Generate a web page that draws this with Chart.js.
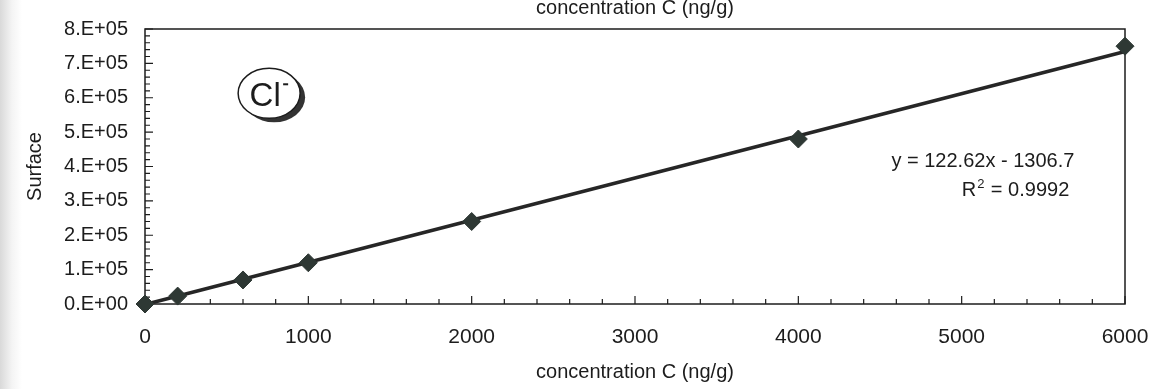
<!DOCTYPE html>
<html>
<head>
<meta charset="utf-8">
<script src="https://cdn.jsdelivr.net/npm/chart.js@4/dist/chart.umd.min.js"></script>
<style>
  html, body { margin: 0; padding: 0; }
  body { width: 1153px; height: 389px; background: linear-gradient(to right, #d9d9d9 0px, #f4f4f4 12px, #ffffff 22px); }
  #wrap { position: relative; width: 1153px; height: 389px; }
</style>
</head>
<body>
<div id="wrap"><canvas id="mycanvas" width="1153" height="389"></canvas></div>
<script>
// measured points (concentration ng/g -> surface)
var concentration = [0, 200, 600, 1000, 2000, 4000, 6000];
var surface = [0, 23000, 70000, 120000, 240000, 480000, 750000];

// linear trendline shown on the chart
var trendX = [0, 6000];
var trendY = [-1306.7, 734413.3];

var xTicks = [0, 1000, 2000, 3000, 4000, 5000, 6000];
var yTicks = [0, 100000, 200000, 300000, 400000, 500000, 600000, 700000, 800000];

var equationText = 'y = 122.62x - 1306.7';
var r2Text = ' = 0.9992';
var axisTitle = 'concentration C (ng/g)';

var ink = '#1c1c1c';
var labelFont = '"Liberation Sans", Arial, sans-serif';

function sci(v) {
    if (v === 0) return '0.E+00';
    var e = Math.floor(Math.log10(Math.abs(v)));
    var m = Math.round(v / Math.pow(10, e));
    return m + '.E+' + String(e).padStart(2, '0');
}

var points = [];
for (var i in concentration) {
    points.push({ x: concentration[i], y: surface[i] });
}
var trend = [];
for (var j in trendX) {
    trend.push({ x: trendX[j], y: trendY[j] });
}

// box, inward ticks, badge and equation
var decor = {
    id: 'decor',
    beforeDatasetsDraw: function (chart) {
        var ctx = chart.ctx, a = chart.chartArea;
        var xs = chart.scales.x, ys = chart.scales.y;
        ctx.save();
        ctx.strokeStyle = ink;
        ctx.lineWidth = 1.5;
        ctx.strokeRect(a.left, a.top, a.right - a.left, a.bottom - a.top);
        ctx.lineWidth = 1.2;
        ctx.beginPath();
        for (var v = 0; v <= 6000; v += 200) {
            var px = xs.getPixelForValue(v);
            var len = (v % 1000 === 0) ? 8 : 5;
            ctx.moveTo(px, a.bottom);
            ctx.lineTo(px, a.bottom - len);
        }
        for (var w = 0; w <= 800000; w += 20000) {
            var py = ys.getPixelForValue(w);
            var l2 = (w % 100000 === 0) ? 8 : 5;
            ctx.moveTo(a.left, py);
            ctx.lineTo(a.left + l2, py);
        }
        ctx.stroke();

        // top axis title (cut by the page edge)
        ctx.fillStyle = ink;
        ctx.font = '20px ' + labelFont;
        ctx.textAlign = 'center';
        ctx.textBaseline = 'alphabetic';
        ctx.fillText(axisTitle, (a.left + a.right) / 2, 14);
        ctx.restore();
    },
    afterDraw: function (chart) {
        var ctx = chart.ctx;
        var xs = chart.scales.x, ys = chart.scales.y;
        ctx.save();
        // Cl- badge
        var cx = xs.getPixelForValue(760), cy = ys.getPixelForValue(613000);
        ctx.fillStyle = '#333';
        ctx.beginPath();
        ctx.ellipse(cx + 5, cy + 4, 31, 25, 0, 0, Math.PI * 2);
        ctx.fill();
        ctx.fillStyle = '#fff';
        ctx.strokeStyle = ink;
        ctx.lineWidth = 1.5;
        ctx.beginPath();
        ctx.ellipse(cx, cy, 31, 25, 0, 0, Math.PI * 2);
        ctx.fill();
        ctx.stroke();
        ctx.fillStyle = ink;
        ctx.font = '33px ' + labelFont;
        ctx.textAlign = 'center';
        ctx.textBaseline = 'alphabetic';
        ctx.fillText('Cl', cx - 4, cy + 13);
        ctx.fillRect(cx + 14, cy - 10, 5, 2);

        // trendline equation
        ctx.font = '20px ' + labelFont;
        var ex = xs.getPixelForValue(5130);
        ctx.fillText(equationText, ex, ys.getPixelForValue(418000) + 7);
        var ry = ys.getPixelForValue(335000) + 7;
        ctx.textAlign = 'left';
        var rw = ctx.measureText('R').width;
        var tw = ctx.measureText(r2Text).width;
        var sw = 9;
        var rx = xs.getPixelForValue(5330) - (rw + sw + tw) / 2;
        ctx.fillText('R', rx, ry);
        ctx.font = '13px ' + labelFont;
        ctx.fillText('2', rx + rw + 1, ry - 8);
        ctx.font = '20px ' + labelFont;
        ctx.fillText(r2Text, rx + rw + sw, ry);
        ctx.restore();
    }
};

var chartdata = {
    datasets: [{
        label: 'Cl-',
        data: points,
        pointStyle: 'rectRot',
        pointRadius: 9,
        pointHoverRadius: 9,
        backgroundColor: '#2e3834',
        borderColor: '#2e3834',
        borderWidth: 1,
        showLine: false,
        clip: false
    }, {
        label: 'trend',
        type: 'line',
        data: trend,
        borderColor: '#262626',
        borderWidth: 3.5,
        pointRadius: 0,
        fill: false,
        clip: false
    }]
};

var ctx = document.getElementById('mycanvas');

var scatter = new Chart(ctx, {
    type: 'scatter',
    data: chartdata,
    plugins: [decor],
    options: {
        responsive: false,
        animation: false,
        layout: { padding: { top: 25, right: 28, left: 0, bottom: 0 } },
        plugins: { legend: { display: false }, tooltip: { enabled: false } },
        scales: {
            x: {
                type: 'linear',
                min: 0,
                max: 6000,
                afterBuildTicks: function (scale) {
                    scale.ticks = xTicks.map(function (v) { return { value: v }; });
                },
                afterFit: function (scale) {
                    scale.height = 85;
                    scale.paddingLeft = 0;
                    scale.paddingRight = 0;
                },
                grid: { display: false, drawTicks: false },
                border: { display: false },
                ticks: {
                    color: ink,
                    padding: 21,
                    maxRotation: 0,
                    font: { family: labelFont, size: 21 },
                    callback: function (v) { return String(v); }
                },
                title: {
                    display: true,
                    text: axisTitle,
                    color: ink,
                    font: { family: labelFont, size: 20 },
                    padding: { top: 0, bottom: 5 }
                }
            },
            y: {
                type: 'linear',
                min: 0,
                max: 800000,
                afterBuildTicks: function (scale) {
                    scale.ticks = yTicks.map(function (v) { return { value: v }; });
                },
                afterFit: function (scale) { scale.width = 145; },
                grid: { display: false, drawTicks: false },
                border: { display: false },
                ticks: {
                    color: ink,
                    padding: 17,
                    font: { family: labelFont, size: 20 },
                    callback: function (v) { return sci(v); }
                },
                title: {
                    display: true,
                    text: 'Surface',
                    color: ink,
                    font: { family: labelFont, size: 20 },
                    padding: { top: 23, bottom: 0 }
                }
            }
        }
    }
});
</script>
</body>
</html>
